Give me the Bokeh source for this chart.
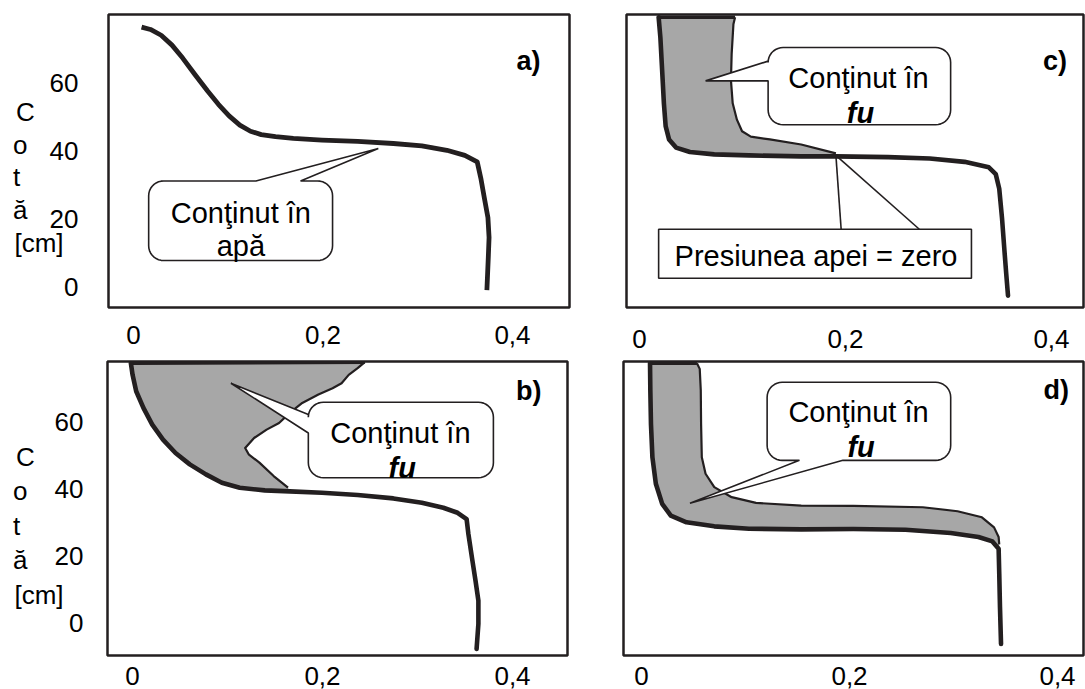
import numpy as np
from bokeh.plotting import figure
from bokeh.layouts import row, column
from bokeh.models import Range1d, FixedTicker, CustomJSTickFormatter, Label
from bokeh.embed import file_html
from bokeh.resources import INLINE

# ---------------- data ----------------
x_ticks = [0, 0.2, 0.4]
y_ticks = [0, 20, 40, 60]
y_title_letters = ["C", "o", "t", "ă", "[cm]"]
y_title_pad = [4, 5, 6, 5, 0]          # no-break spaces so the lines align left
panel_names = ["a)", "b)", "c)", "d)"]
callout_line1 = "Conţinut în"
callout_line2_a = "apă"
callout_line2_fu = "fu"
pressure_text = "Presiunea apei = zero"

# a) water content profile
a_theta = [0.0085, 0.0179, 0.0292, 0.0406, 0.0519, 0.0650, 0.0782, 0.0896, 0.1009,
           0.1122, 0.1235, 0.1348, 0.1499, 0.1687, 0.1989, 0.2366, 0.2743, 0.3044,
           0.3308, 0.3497, 0.3628, 0.3666, 0.3703, 0.3741, 0.3753, 0.3745, 0.3730]
a_depth = [76.3, 75.6, 73.9, 71.0, 67.2, 62.3, 57.5, 53.6, 50.2, 47.5, 45.7, 44.7,
           44.1, 43.6, 43.1, 42.7, 42.1, 41.4, 40.1, 38.6, 36.7, 31.9, 26.1, 20.3,
           14.5, 8.7, -1.0]

# b) total (thick) and liquid (thin) profiles
b_theta_thick = [-0.0017, 0.0001, 0.0039, 0.0115, 0.0208, 0.0321, 0.0453, 0.0603, 0.0773,
                 0.0941, 0.1129, 0.1393, 0.1656, 0.1994, 0.2370, 0.2746, 0.3046, 0.3272,
                 0.3422, 0.3517, 0.3536, 0.3573, 0.3611, 0.3641, 0.3641, 0.3622]
b_depth_thick = [77.7, 74.2, 69.3, 64.3, 59.3, 54.8, 50.8, 47.4, 44.4, 41.9, 40.4, 39.6,
                 39.3, 38.9, 38.2, 37.2, 35.9, 34.4, 32.9, 31.0, 26.5, 19.5, 12.5, 6.6,
                 -0.4, -7.9]
b_theta_thin = [0.2445, 0.2370, 0.2276, 0.2201, 0.2106, 0.1957, 0.1787, 0.1656, 0.1543,
                0.1412, 0.1280, 0.1186, 0.1223, 0.1336, 0.1486, 0.1637]
b_depth_thin = [78.0, 76.2, 74.2, 71.7, 70.2, 68.3, 65.8, 62.8, 59.8, 57.8, 55.3, 52.3,
                50.4, 47.9, 43.9, 40.4]
b_merge = 13

# c)
c_theta_thick = [0.0186, 0.0203, 0.0220, 0.0237, 0.0254, 0.0287, 0.0355, 0.0490, 0.0726,
                 0.1063, 0.1570, 0.1907, 0.2414, 0.2818, 0.3156, 0.3392, 0.3459, 0.3493,
                 0.3520, 0.3544, 0.3561, 0.3578]
c_depth_thick = [79.2, 73.2, 63.6, 53.9, 47.2, 43.3, 40.9, 39.6, 38.9, 38.6, 38.3, 38.3,
                 38.1, 37.7, 36.7, 35.1, 33.1, 28.8, 20.1, 10.4, 3.7, -2.6]
c_theta_thin = [0.0928, 0.0912, 0.0895, 0.0888, 0.0905, 0.0946, 0.0996, 0.1081, 0.1266,
                0.1570, 0.1907]
c_depth_thin = [79.2, 77.1, 68.4, 60.7, 53.9, 49.1, 45.7, 44.1, 43.3, 41.8, 39.2]
c_merge = 12

# d)
d_theta_thick = [0.0082, 0.0085, 0.0091, 0.0105, 0.0138, 0.0199, 0.0282, 0.0433, 0.0700,
                 0.1034, 0.1536, 0.2037, 0.2538, 0.2973, 0.3240, 0.3374, 0.3434, 0.3440,
                 0.3447, 0.3457]
d_depth_thick = [77.4, 69.3, 59.3, 49.3, 41.4, 35.4, 31.9, 29.9, 28.7, 28.0, 27.8, 27.9,
                 27.7, 26.7, 25.5, 24.2, 22.0, 14.5, 4.6, -6.4]
d_theta_thin = [0.0533, 0.0560, 0.0570, 0.0573, 0.0580, 0.0616, 0.0700, 0.0867, 0.1101,
                0.1536, 0.2037, 0.2705, 0.3039, 0.3273, 0.3390, 0.3434, 0.3440]
d_depth_thin = [77.4, 75.7, 69.3, 59.3, 49.3, 44.4, 40.4, 37.4, 35.7, 34.9, 34.8, 34.4,
                33.2, 31.4, 28.4, 25.5, 23.3]
d_merge = 17

# ---------------- style ----------------
INK = "#231f20"
GREY = "#a7a7a7"
FONT = "Liberation Sans"
TICK_FS = "26px"
NOTE_FS = "29px"
TAG_FS = "27px"

xfmt = CustomJSTickFormatter(code="""
    if (Math.abs(tick) < 1e-9) { return "0"; }
    return tick.toFixed(1).replace(".", ",");
""")

SCALE = {}


def make_panel(w, h, bl, br, bt, bb, xr, yr, xstand, ystand=None):
    p = figure(width=w, height=h, x_range=Range1d(*xr), y_range=Range1d(*yr),
               output_backend="svg", toolbar_location=None, title_location=None,
               min_border_left=bl, min_border_right=br, min_border_top=bt,
               min_border_bottom=bb)
    p.grid.visible = False
    p.background_fill_color = "white"
    p.border_fill_color = "white"
    p.outline_line_color = INK
    p.outline_line_width = 2.5
    p.outline_line_alpha = 1.0
    ax = p.xaxis[0]
    ax.ticker = FixedTicker(ticks=x_ticks)
    ax.formatter = xfmt
    ax.axis_line_color = None
    ax.major_tick_in = 0
    ax.major_tick_out = 0
    ax.minor_tick_in = 0
    ax.minor_tick_out = 0
    ax.major_label_standoff = xstand
    ax.major_label_text_font = FONT
    ax.major_label_text_font_size = TICK_FS
    ax.major_label_text_color = "black"
    ay = p.yaxis[0]
    if ystand is None:
        ay.visible = False
    else:
        ay.ticker = FixedTicker(ticks=y_ticks)
        ay.axis_line_color = None
        ay.major_tick_in = 0
        ay.major_tick_out = 0
        ay.minor_tick_in = 0
        ay.minor_tick_out = 0
        ay.major_label_standoff = ystand
        ay.major_label_text_font = FONT
        ay.major_label_text_font_size = TICK_FS
        ay.major_label_text_color = "black"
    SCALE[p.id] = ((w - bl - br) / (xr[1] - xr[0]), (h - bt - bb) / (yr[1] - yr[0]))
    return p


def y_title(p, standoff, line_height):
    lines = ["\u00a0"] + [t + "\u00a0" * n for t, n in zip(y_title_letters, y_title_pad)]
    ay = p.yaxis[0]
    ay.axis_label = "\n".join(lines)
    ay.axis_label_orientation = "horizontal"
    ay.axis_label_standoff = standoff
    ay.axis_label_text_font = FONT
    ay.axis_label_text_font_size = TICK_FS
    ay.axis_label_text_font_style = "normal"
    ay.axis_label_text_color = "black"
    ay.axis_label_text_line_height = line_height


def callout(p, box, edge, b1, b2, tip, r_px=15, n=10):
    x0, x1, y0, y1 = box
    sx, sy = SCALE[p.id]
    rx, ry = r_px / sx, r_px / sy
    pts = []

    def arc(cx, cy, a0, a1):
        for t in np.linspace(np.radians(a0), np.radians(a1), n):
            pts.append((cx + rx * np.cos(t), cy + ry * np.sin(t)))

    pts.append((x0 + rx, y1))
    if edge == "top":
        pts.extend([(b1, y1), tip, (b2, y1)])
    arc(x1 - rx, y1 - ry, 90, 0)
    arc(x1 - rx, y0 + ry, 0, -90)
    if edge == "bottom":
        pts.extend([(b2, y0), tip, (b1, y0)])
    arc(x0 + rx, y0 + ry, -90, -180)
    if edge == "left":
        pts.extend([(x0, b1), tip, (x0, b2)])
    arc(x0 + rx, y1 - ry, 180, 90)
    xs = [float(q[0]) for q in pts]
    ys = [float(q[1]) for q in pts]
    p.patch(xs, ys, fill_color="white", line_color=INK, line_width=1.6)


def text(p, x, y, s, size=NOTE_FS, style="normal", align="center"):
    p.add_layout(Label(x=x, y=y, text=s, text_font=FONT, text_font_size=size,
                       text_font_style=style, text_align=align,
                       text_baseline="alphabetic", text_color="black"))


def shaded(p, tt, dt, tn, dn, k):
    fx = list(tt[:k]) + list(tn[::-1])
    fy = list(dt[:k]) + list(dn[::-1])
    p.patch(fx, fy, fill_color=GREY, line_color=None)
    p.line(tn, dn, line_color=INK, line_width=2.2, line_join="round")
    p.line([tt[0], tn[0]], [dt[0], dn[0]], line_color=INK, line_width=3.5)
    p.line(tt, dt, line_color=INK, line_width=4.6, line_join="round", line_cap="round")


# ---------------- panel a ----------------
pa = make_panel(600, 356, 108, 31, 14, 45, (-0.0264, 0.4602), (-6.09, 80.0), 18, 30)
pa.line(a_theta, a_depth, line_color=INK, line_width=4.8, line_join="round")
callout(pa, (0.0160, 0.2101, 7.7, 31.1), "top", 0.1292, 0.1763, (0.2584, 40.6))
text(pa, 0.1133, 21.7, callout_line1)
text(pa, 0.1133, 12.1, callout_line2_a)
text(pa, 0.4296, 66.4, panel_names[0], size=TAG_FS, style="bold", align="right")
y_title(pa, -17, 1.09)

# ---------------- panel c ----------------
pc = make_panel(485, 356, 26, 2, 10, 49, (-0.0126, 0.4311), (-6.09, 80.0), 22)
shaded(pc, c_theta_thick, c_depth_thick, c_theta_thin, c_depth_thin, c_merge)
callout(pc, (0.1249, 0.3021, 47.6, 70.3), "left", 60.5, 66.3, (0.0642, 60.5))
text(pc, 0.2126, 61.2, callout_line1)
text(pc, 0.2146, 51.2, callout_line2_fu, style="bold italic")
pc.quad(left=0.0186, right=0.3223, bottom=2.5, top=16.9, fill_color="white",
        line_color=INK, line_width=1.6)
pc.segment(x0=[0.1958, 0.2717], y0=[16.9, 16.9], x1=[0.1907, 0.1907], y1=[38.6, 38.6],
           line_color=INK, line_width=1.6)
text(pc, 0.1714, 9.0, pressure_text)
text(pc, 0.4150, 66.3, panel_names[2], size=TAG_FS, style="bold", align="right")

# ---------------- panel b ----------------
pb = make_panel(600, 333, 107, 33, 4, 34, (-0.0263, 0.4579), (-9.85, 78.2), 11, 24)
shaded(pb, b_theta_thick, b_depth_thick, b_theta_thin, b_depth_thin, b_merge)
callout(pb, (0.1851, 0.3799, 43.4, 66.0), "left", 56.8, 62.3, (0.1036, 71.7))
text(pb, 0.2820, 56.8, callout_line1)
text(pb, 0.2840, 46.4, callout_line2_fu, style="bold italic")
text(pb, 0.4305, 69.3, panel_names[1], size=TAG_FS, style="bold", align="right")
y_title(pb, -12, 1.15)

# ---------------- panel d ----------------
pd_ = make_panel(485, 333, 23, 2, 5, 34, (-0.0173, 0.4250), (-9.85, 77.9), 11)
shaded(pd_, d_theta_thick, d_depth_thick, d_theta_thin, d_depth_thin, d_merge)
callout(pd_, (0.1208, 0.2973, 48.4, 71.7), "bottom", 0.1519, 0.1937, (0.0466, 35.6))
text(pd_, 0.2087, 62.8, callout_line1)
text(pd_, 0.2112, 52.3, callout_line2_fu, style="bold italic")
text(pd_, 0.4110, 69.3, panel_names[3], size=TAG_FS, style="bold", align="right")

layout = column(row(pa, pc), row(pb, pd_))
open("out.html", "w").write(file_html(layout, INLINE))
